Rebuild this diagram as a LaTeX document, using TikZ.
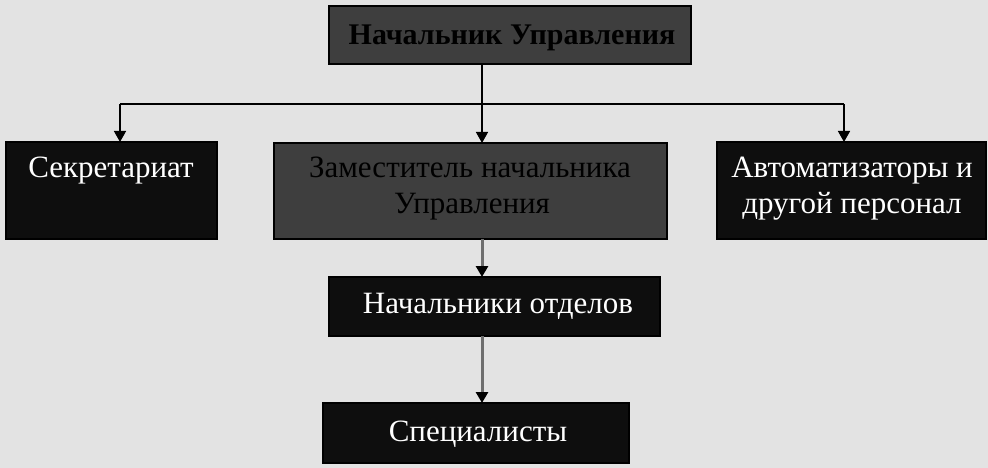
\documentclass[tikz,border=0pt]{standalone}
\usepackage{fontspec}
\setmainfont{Liberation Serif}
\usetikzlibrary{arrows.meta}
\definecolor{bgc}{HTML}{E3E3E3}
\definecolor{darkbox}{HTML}{3E3E3E}
\definecolor{blackbox}{HTML}{0E0E0E}
\definecolor{connG}{HTML}{6E6E6E}
\tikzset{
  box/.style={draw=black, line width=1.2pt, inner sep=0pt, outer sep=0pt},
  graybox/.style={box, fill=darkbox},
  blkbox/.style={box, fill=blackbox},
  wtxt/.style={text=white, font=\fontsize{31}{35}\selectfont, anchor=base, inner sep=0pt},
  dtxt/.style={text=black, font=\fontsize{31}{35}\selectfont, anchor=base, inner sep=0pt},
  conn/.style={line width=1.5pt, draw=black},
  arr/.style={conn, -{Triangle[length=11pt,width=12pt]}},
  garr/.style={line width=3pt, draw=connG, -{Triangle[length=11pt,width=12pt,color=black]}}
}
\begin{document}
\begin{tikzpicture}[x=1pt,y=-1pt]
\fill[bgc] (0,0) rectangle (988,468);
\useasboundingbox (0,0) rectangle (988,468);
% boxes
\node[graybox, minimum width=362pt, minimum height=58pt] (boss) at (510,35) {};
\node[blkbox, minimum width=211pt, minimum height=97pt] (sec) at (111.5,190.5) {};
\node[graybox, minimum width=393pt, minimum height=96pt] (dep) at (470.5,191) {};
\node[blkbox, minimum width=269pt, minimum height=97pt] (aut) at (851.5,190.5) {};
\node[blkbox, minimum width=331pt, minimum height=59pt] (heads) at (494.5,306.5) {};
\node[blkbox, minimum width=306pt, minimum height=60pt] (spec) at (476,433) {};
% texts
\node[dtxt, font=\fontsize{30}{35}\selectfont\bfseries] (bossT) at (512,45) {Начальник Управления};
\node[wtxt] (secT) at (111,178) {Секретариат};
\node[dtxt] (depT1) at (470,178) {Заместитель начальника};
\node[dtxt] (depT2) at (472,213) {Управления};
\node[wtxt] (autT1) at (852,178) {Автоматизаторы и};
\node[wtxt] (autT2) at (852,213) {другой персонал};
\node[wtxt] (headsT) at (498,313) {Начальники отделов};
\node[wtxt] (specT) at (478,441) {Специалисты};
% connectors
\coordinate (barL) at (120,104);
\coordinate (barM) at (482,104);
\coordinate (barR) at (844,104);
\draw[conn] (boss.south -| barM) -- (barM);
\draw[conn] (barL) -- (barR);
\draw[arr] (barL) -- (barL |- sec.north);
\draw[arr] (barM) -- (barM |- dep.north);
\draw[arr] (barR) -- (barR |- aut.north);
\draw[garr] (dep.south -| barM) -- (barM |- heads.north);
\draw[garr] (heads.south -| barM) -- (barM |- spec.north);
\end{tikzpicture}
\end{document}
